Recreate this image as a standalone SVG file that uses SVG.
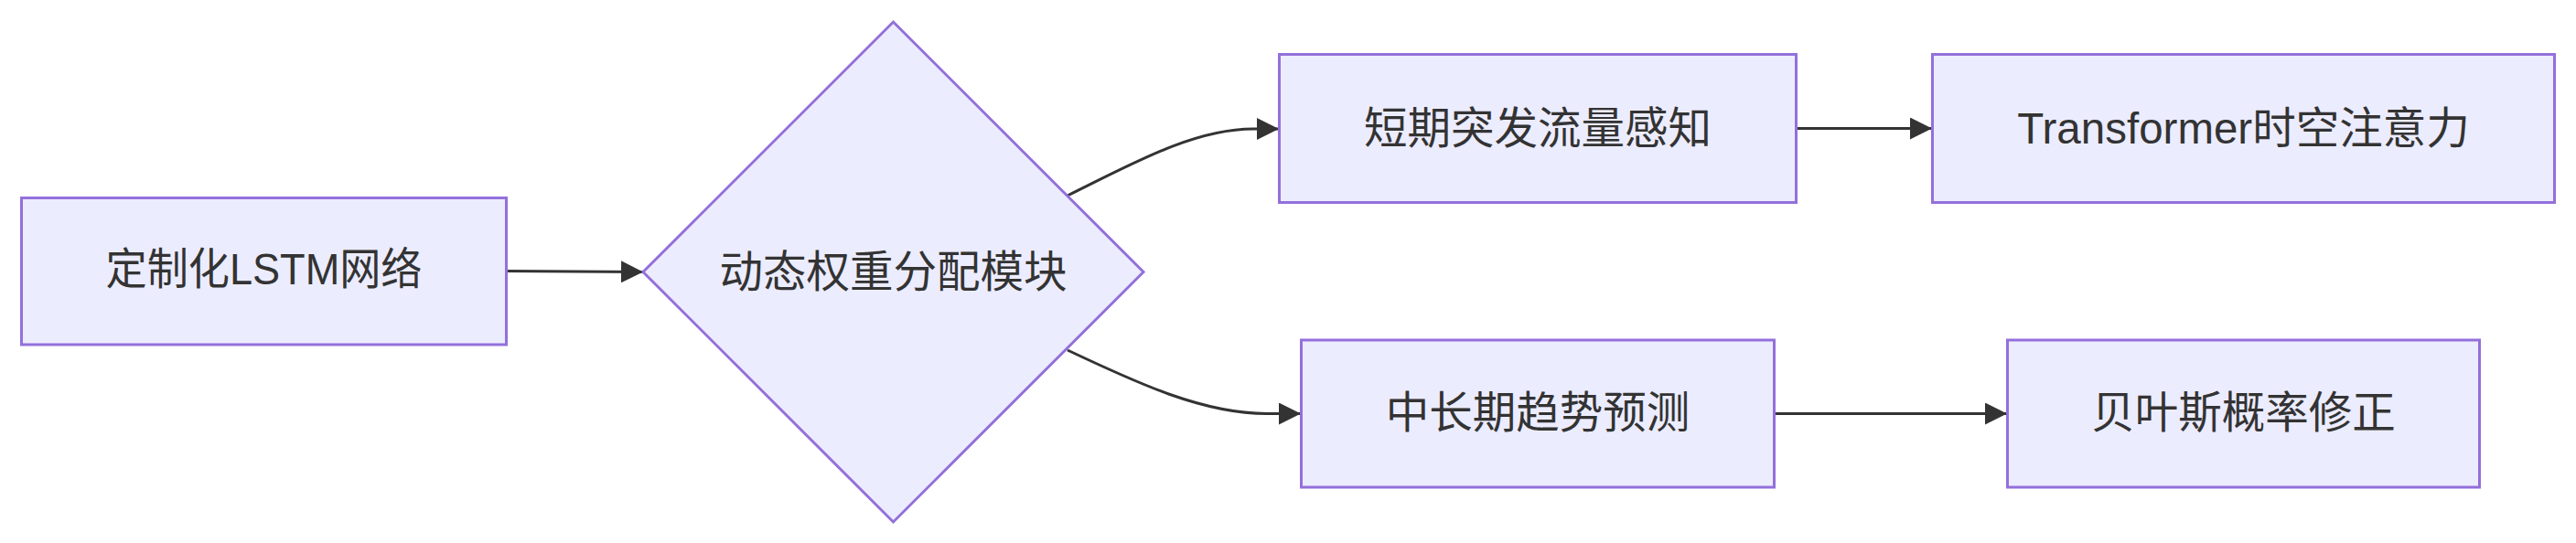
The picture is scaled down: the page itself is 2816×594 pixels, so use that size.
<svg xmlns="http://www.w3.org/2000/svg" width="2816" height="594" viewBox="0 0 2816 594">
<style>
.node rect, .node polygon { fill: #ECECFF; stroke: #9370DB; stroke-width: 3; }
.label { font-family: "Liberation Sans", "Noto Sans CJK SC", sans-serif; font-size: 47.5px; fill: #333333; text-anchor: middle; }
.edge { fill: none; stroke: #333333; stroke-width: 3; }
</style>
<defs>
<marker id="arrow" markerUnits="userSpaceOnUse" viewBox="0 0 24 24" refX="24" refY="12" markerWidth="24" markerHeight="24" orient="auto">
<path d="M0,0 L24,12 L0,24 z" fill="#333333"/>
</marker>
</defs>
<rect width="2816" height="594" fill="#ffffff"/>
<g id="connectors">
<path class="edge" d="M553,296.5 L703,297.5" marker-end="url(#arrow)"/>
<path class="edge" d="M1167,214 C1238,179 1305,141 1370,141 L1398,141" marker-end="url(#arrow)"/>
<path class="edge" d="M1167,383 C1243,419 1315,452.5 1385,452.5 L1422,452.5" marker-end="url(#arrow)"/>
<path class="edge" d="M1964,140.5 L2112,140.5" marker-end="url(#arrow)"/>
<path class="edge" d="M1940,452.5 L2194,452.5" marker-end="url(#arrow)"/>
</g>
<g id="node-lstm" class="node">
<rect x="23.5" y="216.5" width="530" height="160.5"/>
<text class="label" x="288.5" y="311" textLength="346" lengthAdjust="spacingAndGlyphs">定制化LSTM网络</text>
</g>
<g id="node-dynamic" class="node">
<polygon points="976.5,24 1250,297.5 976.5,571 703,297.5"/>
<text class="label" x="976.5" y="314">动态权重分配模块</text>
</g>
<g id="node-short" class="node">
<rect x="1398.5" y="59.5" width="565" height="162"/>
<text class="label" x="1681" y="156.5">短期突发流量感知</text>
</g>
<g id="node-transformer" class="node">
<rect x="2112.5" y="59.5" width="680" height="162"/>
<text class="label" x="2452.5" y="156.5">Transformer时空注意力</text>
</g>
<g id="node-mid" class="node">
<rect x="1422.5" y="372" width="517" height="161"/>
<text class="label" x="1681" y="468">中长期趋势预测</text>
</g>
<g id="node-bayes" class="node">
<rect x="2194.5" y="372" width="516" height="161"/>
<text class="label" x="2452.5" y="468">贝叶斯概率修正</text>
</g>
</svg>
